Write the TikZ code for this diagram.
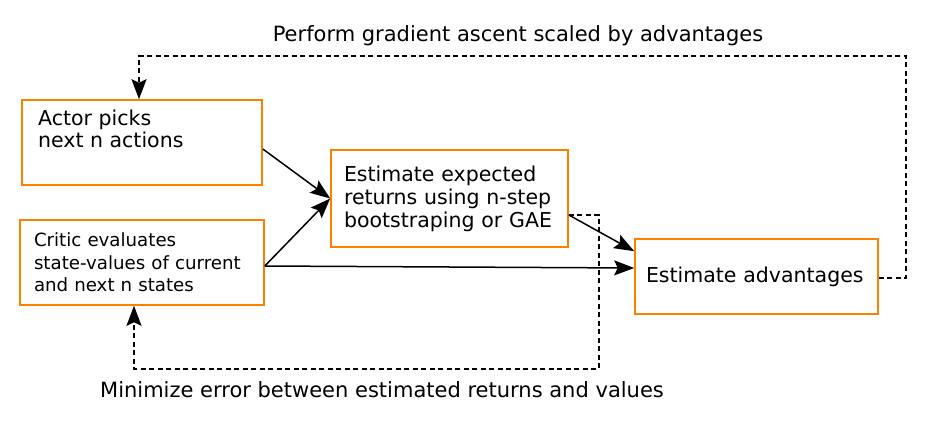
\documentclass[tikz,border=0pt]{standalone}
\usepackage{fontspec}
\setmainfont{DejaVu Sans}
\usetikzlibrary{arrows.meta,calc}
\definecolor{stageorange}{RGB}{255,127,0}

\begin{document}
\begin{tikzpicture}[x=1pt,y=-1pt,
    stage/.style={draw=stageorange,line width=1.6pt,align=left,inner ysep=0pt},
    flow/.style={line width=1.5pt,->,>={Stealth[length=20pt,width=15pt,inset=3.5pt]}},
    feedback/.style={flow,dash pattern=on 5pt off 3.5pt}]
                \useasboundingbox (0,0) rectangle (936,420);
                \node[stage,minimum width=240pt,minimum height=85pt] (actor) at (142,142.5) {};
                \node[anchor=north west,inner sep=0pt,align=left,font=\fontsize{20.5pt}{22.5pt}\selectfont] (actortext) at (38,109.5) {Actor picks\\next n actions};
                \node[stage,inner xsep=14pt,text width=216pt,minimum height=85pt,font=\fontsize{18.2pt}{22.5pt}\selectfont] (critic) at (142,262.5) {Critic evaluates\\state-values of current\\and next n states};
                \node[stage,inner xsep=13pt,text width=211pt,minimum height=97pt,font=\fontsize{20.5pt}{23pt}\selectfont] (estret) at (449.5,198.5) {Estimate expected\\returns using n-step\\bootstraping or GAE};
                \node[stage,inner xsep=11pt,text width=221pt,minimum height=75pt,font=\fontsize{20.5pt}{23pt}\selectfont] (adv) at (756.5,276.5) {Estimate advantages};
                \node[anchor=base,font=\fontsize{21pt}{25pt}\selectfont] (ascent) at (518,41.5) {Perform gradient ascent scaled by advantages};
                \node[anchor=base,font=\fontsize{21pt}{25pt}\selectfont] (minimize) at (382,397) {Minimize error between estimated returns and values};
                \coordinate (split) at ($(critic.east)+(0,3.5)$);
                \coordinate (retout) at ($(estret.east)+(0,16.5)$);
                \coordinate (topturn) at (906,56);
                \coordinate (lowturn) at (599,369);
                \draw[flow] ($(actor.east)+(0,6.5)$) -- (estret.west);
                \draw[flow] (split) -- (estret.west);
                \draw[flow] (split) -- ($(adv.west)+(0,-8.5)$);
                \draw[flow] (retout) -- ($(adv.north west)+(0,13)$);
                \draw[feedback] ($(adv.east)+(0,1.5)$) -| (topturn) -| ($(actor.north)+(-3,0)$);
                \draw[feedback] (retout) -| (lowturn) -| ($(critic.south)+(-8,0)$);
            \end{tikzpicture}
\end{document}
